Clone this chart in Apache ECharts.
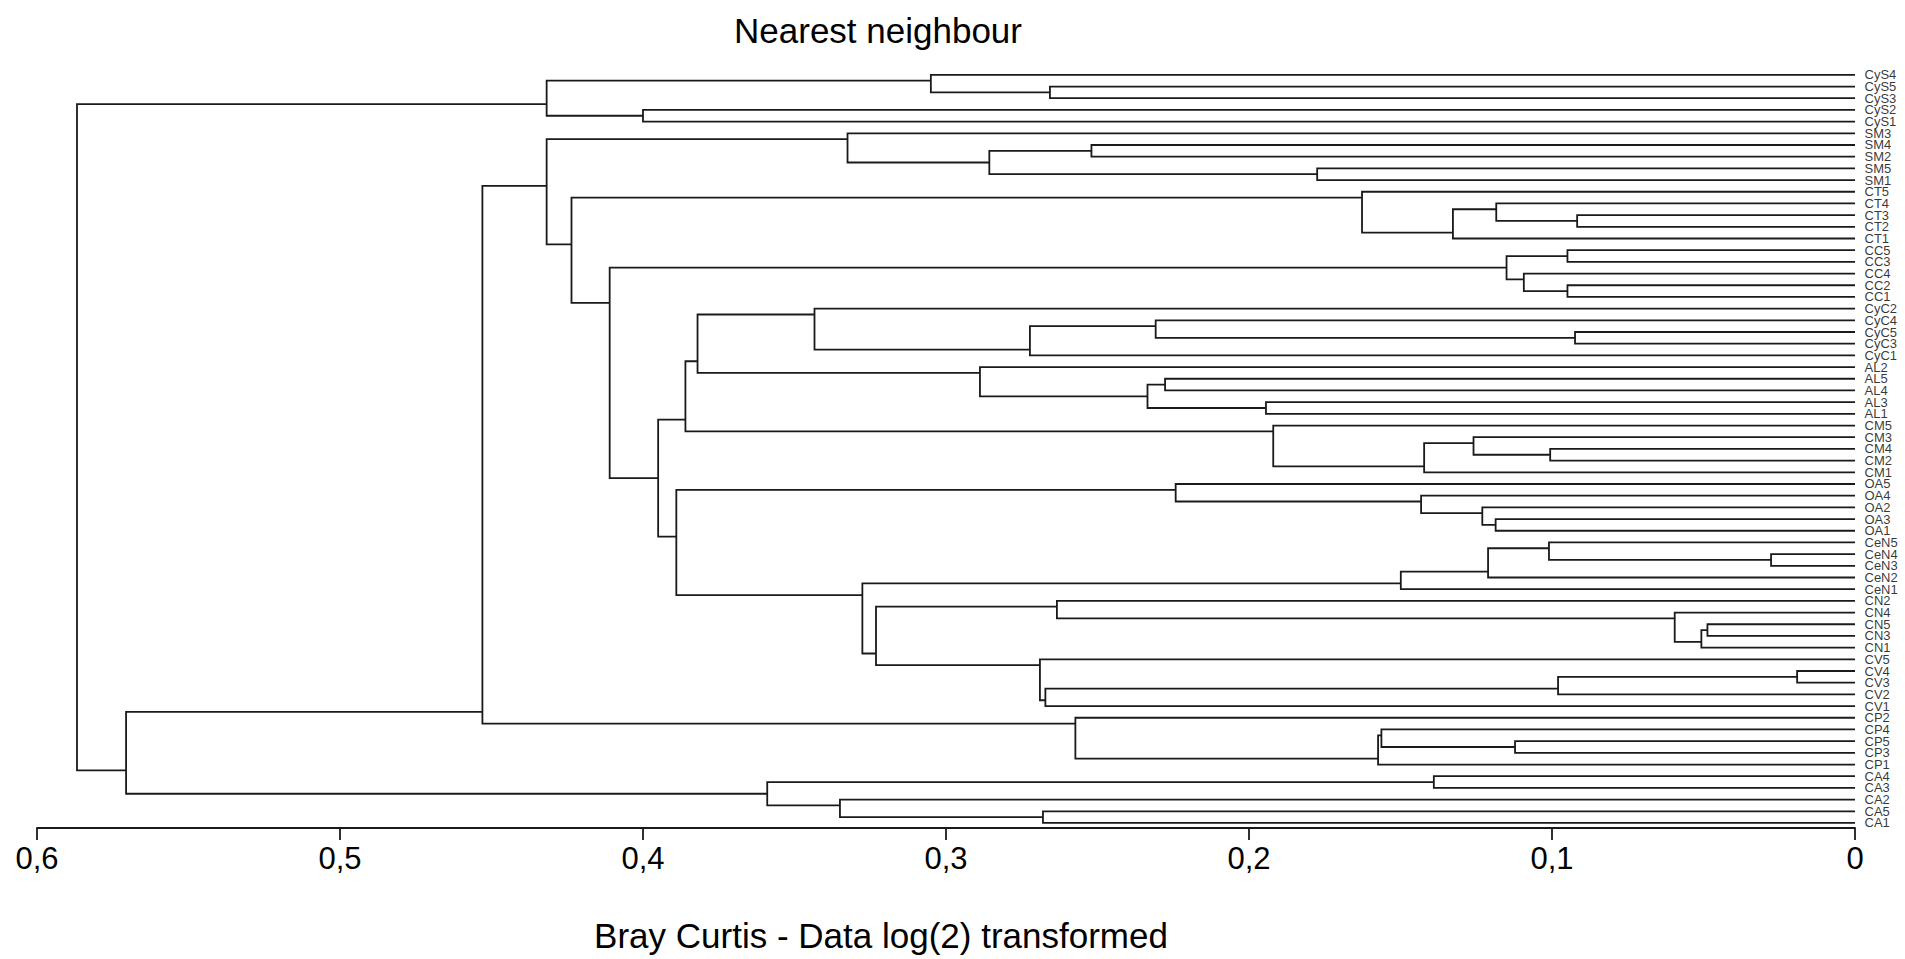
<!DOCTYPE html>
<html><head><meta charset="utf-8">
<script src="https://cdn.jsdelivr.net/npm/echarts@6/dist/echarts.min.js"></script>
<style>html,body{margin:0;padding:0;background:#fff;}#chart{width:1905px;height:959px;}</style>
</head><body><div id="chart"></div>
<script>
// Leaf order, top to bottom
const leaves = ['CyS4','CyS5','CyS3','CyS2','CyS1','SM3','SM4','SM2','SM5','SM1',
  'CT5','CT4','CT3','CT2','CT1','CC5','CC3','CC4','CC2','CC1',
  'CyC2','CyC4','CyC5','CyC3','CyC1','AL2','AL5','AL4','AL3','AL1',
  'CM5','CM3','CM4','CM2','CM1','OA5','OA4','OA2','OA3','OA1',
  'CeN5','CeN4','CeN3','CeN2','CeN1','CN2','CN4','CN5','CN3','CN1',
  'CV5','CV4','CV3','CV2','CV1','CP2','CP4','CP5','CP3','CP1',
  'CA4','CA3','CA2','CA5','CA1'];

// Merges: [upper child, lower child, distance]; '#k' refers to merge k
const mergeA = ['CyS5','CyS4','CyS2','#1','SM4','SM5','#4','SM3','CT3','CT4','#9','CT5','CC5','CC2','CC4','#12',
  'CyC5','CyC4','#17','CyC2','AL5','AL3','#20','AL2','#19','CM4','CM3','#26','CM5','#24',
  'OA3','OA2','OA4','OA5','CeN4','CeN5','#35','#36','CN5','#38','CN4','CN2','CV4','#42','#43','CV5',
  '#41','#37','#33','#29','#15','#11','#7','CP5','CP4','#54','CP2','#52','CA4','CA5','CA2','#58','#57','#3'];
const mergeB = ['CyS3','#0','CyS1','#2','SM2','SM1','#5','#6','CT2','#8','CT1','#10','CC3','CC1','#13','#14',
  'CyC3','#16','CyC1','#18','AL4','AL1','#21','#22','#23','CM2','#25','CM1','#27','#28',
  'OA1','#30','#31','#32','CeN3','#34','CeN2','CeN1','CN3','CN1','#39','#40','CV3','CV2','CV1','#44',
  '#45','#46','#47','#48','#49','#50','#51','CP3','#53','CP1','#55','#56','CA3','CA1','#59','#60','#61','#62'];
const mergeH = [0.2657,0.305,0.400,0.4318,0.252,0.1775,0.2857,0.3325,0.0917,0.1184,0.1327,0.1627,0.0949,0.0949,0.1093,0.115,
  0.0924,0.2308,0.2723,0.3434,0.2277,0.1944,0.2335,0.2888,0.382,0.1006,0.1259,0.1422,0.192,0.386,
  0.1186,0.123,0.1432,0.2242,0.0277,0.101,0.1211,0.1499,0.0487,0.0507,0.0595,0.2634,0.0191,0.098,0.2672,0.269,
  0.3231,0.3276,0.389,0.395,0.411,0.4236,0.4318,0.1122,0.1563,0.1574,0.2573,0.453,0.139,0.268,0.335,0.359,0.5706,0.5868];

const xTickLabels = ['0','0,1','0,2','0,3','0,4','0,5','0,6'];
const titleText = 'Nearest neighbour';
const axisTitle = 'Bray Curtis - Data log(2) transformed';

// Resolve node geometry in data units (distance, leaf index)
const nodes = [];
function info(ref) {
  if (ref[0] === '#') return nodes[+ref.slice(1)];
  const i = leaves.indexOf(ref);
  return {first: i, last: i, pos: i, h: 0};
}
const brackets = [];
for (let k = 0; k < mergeH.length; k++) {
  const a = info(mergeA[k]), b = info(mergeB[k]), h = mergeH[k];
  nodes.push({first: Math.min(a.first, b.first), last: Math.max(a.last, b.last),
              pos: (a.last + b.first) / 2, h: h});
  brackets.push([[a.h, a.pos], [h, a.pos], [h, b.pos], [b.h, b.pos]]);
}

const FONT = 'Liberation Sans, Arial, sans-serif';
const NARROW = 'Liberation Sans Narrow, Liberation Sans, Arial, sans-serif';
const chart = echarts.init(document.getElementById('chart'), null, {renderer: 'svg'});
chart.setOption({
  animation: false,
  backgroundColor: '#fff',
  grid: {left: 37, right: 50, top: 69, bottom: 131, containLabel: false, outerBoundsMode: 'none'},
  xAxis: {
    type: 'value', min: 0, max: 0.6, interval: 0.1, inverse: true, position: 'bottom',
    axisLine: {show: true, onZero: false, lineStyle: {color: '#1a1a1a', width: 1.8}},
    axisTick: {show: true, length: 12, lineStyle: {color: '#1a1a1a', width: 1.8}},
    axisLabel: {fontSize: 31, color: '#000', fontFamily: FONT, margin: 15,
      formatter: v => xTickLabels[Math.round(v * 10)]},
    splitLine: {show: false}
  },
  yAxis: {type: 'value', min: -0.5, max: 64.43, inverse: true, show: false},
  series: [
    {type: 'lines', coordinateSystem: 'cartesian2d', polyline: true, silent: true,
     data: brackets.map(c => ({coords: c})),
     lineStyle: {color: '#1a1a1a', width: 1.8, opacity: 1}},
    {type: 'scatter', silent: true, clip: false, symbolSize: 1,
     itemStyle: {color: 'rgba(0,0,0,0)'},
     data: leaves.map((n, i) => [0, i, n]),
     label: {show: true, position: 'right', distance: 9, fontSize: 13, color: '#000',
       fontFamily: NARROW, formatter: p => p.data[2]}}
  ],
  graphic: [
    {type: 'text', x: 878, y: 30, style: {text: titleText, fontSize: 35, fontFamily: FONT,
      fill: '#000', align: 'center', verticalAlign: 'middle'}},
    {type: 'text', x: 881, y: 935, style: {text: axisTitle, fontSize: 35, fontFamily: FONT,
      fill: '#000', align: 'center', verticalAlign: 'middle'}}
  ]
});
</script></body></html>
